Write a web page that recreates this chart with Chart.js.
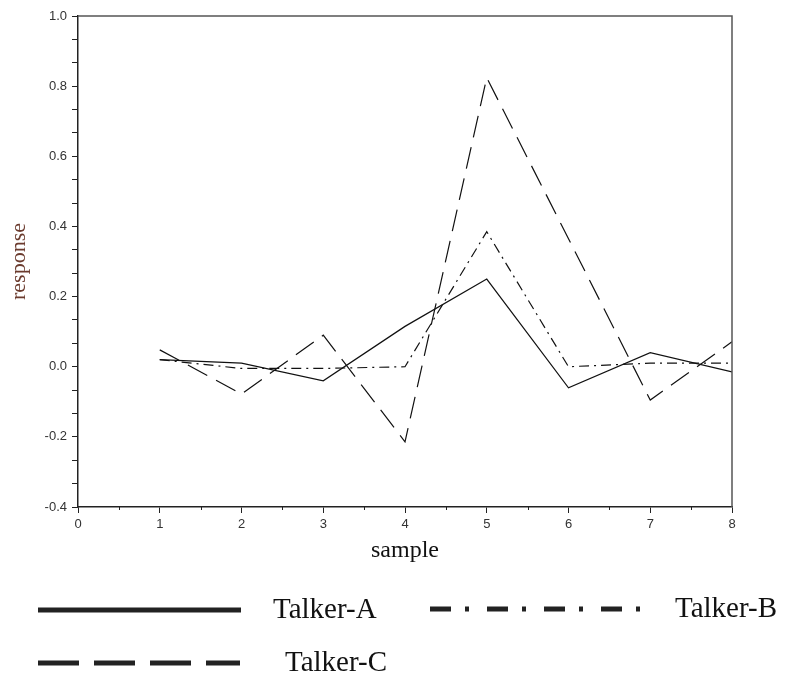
<!DOCTYPE html>
<html lang="en">
<head>
    <meta charset="UTF-8">
    <title>Talker response</title>
    <script src="https://cdn.jsdelivr.net/npm/chart.js"></script>
    <style>
        body {
            margin: 0;
            background: #fff;
        }
        #chart {
            display: block;
        }
    </style>
</head>
<body>
    <canvas id="chart" width="792" height="682"></canvas>
    <script>
        // values
        var samples = [1, 2, 3, 4, 5, 6, 7, 8];
        var talkerA = [0.02, 0.01, -0.04, 0.115, 0.25, -0.06, 0.04, -0.015];
        var talkerB = [0.02, -0.005, -0.005, 0.0, 0.385, 0.0, 0.01, 0.01];
        var talkerC = [0.048, -0.078, 0.09, -0.214, 0.824, 0.365, -0.095, 0.071];
        var seriesNames = ['Talker-A', 'Talker-B', 'Talker-C'];

        var yMajor = [-0.4, -0.2, 0.0, 0.2, 0.4, 0.6, 0.8, 1.0];
        var xMajor = [0, 1, 2, 3, 4, 5, 6, 7, 8];

        function points(ys) {
            return samples.map(function(x, i) { return {x: x, y: ys[i]}; });
        }

        // y ticks: majors plus two minors in between
        var yTicks = [];
        yMajor.forEach(function(v, i) {
            yTicks.push({value: v, major: true});
            if (i < yMajor.length - 1) {
                var step = (yMajor[i + 1] - v) / 3;
                yTicks.push({value: v + step});
                yTicks.push({value: v + 2 * step});
            }
        });

        // short minor ticks on x at the half samples + frame on top/right
        var framePlugin = {
            id: 'frame',
            afterDraw: function(chart) {
                var ctx = chart.ctx;
                var a = chart.chartArea;
                var xs = chart.scales.x;
                ctx.save();
                ctx.strokeStyle = '#222';
                ctx.lineWidth = 1;
                ctx.beginPath();
                for (var i = 0; i < xMajor.length - 1; i++) {
                    var px = Math.round(xs.getPixelForValue(xMajor[i] + 0.5)) + 0.5;
                    ctx.moveTo(px, a.bottom);
                    ctx.lineTo(px, a.bottom + 3);
                }
                ctx.stroke();
                ctx.strokeStyle = '#555';
                ctx.lineWidth = 1.5;
                ctx.beginPath();
                ctx.moveTo(a.left, a.top);
                ctx.lineTo(a.right, a.top);
                ctx.lineTo(a.right, a.bottom);
                ctx.stroke();
                ctx.restore();
            }
        };

        // legend under the axis, two rows
        var legendPlugin = {
            id: 'bottomLegend',
            afterDraw: function(chart, args, opts) {
                var ctx = chart.ctx;
                ctx.save();
                ctx.font = opts.font;
                ctx.fillStyle = '#111';
                ctx.textBaseline = 'middle';
                opts.items.forEach(function(it, i) {
                    var ds = chart.data.datasets[i];
                    ctx.strokeStyle = '#222';
                    ctx.lineWidth = 5;
                    ctx.setLineDash(it.dash);
                    ctx.beginPath();
                    ctx.moveTo(it.x0, it.y);
                    ctx.lineTo(it.x1, it.y);
                    ctx.stroke();
                    ctx.setLineDash([]);
                    ctx.fillText(ds.label, it.tx, it.y);
                });
                ctx.restore();
            }
        };

        var ctx = document.getElementById('chart').getContext('2d');
        var chart = new Chart(ctx, {
            type: 'line',
            data: {
                datasets: [{
                    label: seriesNames[0],
                    data: points(talkerA),
                    borderColor: '#111',
                    borderWidth: 1.2,
                    pointRadius: 0,
                    tension: 0
                }, {
                    label: seriesNames[1],
                    data: points(talkerB),
                    borderColor: '#111',
                    borderWidth: 1.2,
                    borderDash: [10, 5, 2, 5],
                    pointRadius: 0,
                    tension: 0
                }, {
                    label: seriesNames[2],
                    data: points(talkerC),
                    borderColor: '#111',
                    borderWidth: 1.2,
                    borderDash: [22, 10],
                    pointRadius: 0,
                    tension: 0
                }]
            },
            options: {
                responsive: false,
                animation: false,
                events: [],
                layout: {
                    padding: {left: 0, top: 16, right: 60, bottom: 113}
                },
                plugins: {
                    legend: {display: false},
                    tooltip: {enabled: false},
                    bottomLegend: {
                        font: '29px "Liberation Serif"',
                        items: [
                            {x0: 38, x1: 241, y: 610, tx: 273, dash: []},
                            {x0: 430, x1: 641, y: 609, tx: 675, dash: [21, 14, 4, 18]},
                            {x0: 38, x1: 240, y: 663, tx: 285, dash: [41, 15]}
                        ]
                    }
                },
                scales: {
                    x: {
                        type: 'linear',
                        min: 0,
                        max: 8,
                        afterFit: function(s) { s.height = 62; },
                        ticks: {
                            stepSize: 1,
                            padding: 4,
                            color: '#333',
                            font: {family: '"Liberation Sans"', size: 13},
                            callback: function(v) { return String(v); }
                        },
                        grid: {
                            drawOnChartArea: false,
                            tickLength: 6,
                            tickColor: '#222',
                            tickWidth: 1
                        },
                        border: {color: '#222', width: 1.5},
                        title: {
                            display: true,
                            text: 'sample',
                            color: '#111',
                            padding: {top: 4, bottom: 4},
                            font: {family: '"Liberation Serif"', size: 24}
                        }
                    },
                    y: {
                        min: -0.4,
                        max: 1.0,
                        afterFit: function(s) { s.width = 78; },
                        afterBuildTicks: function(s) {
                            s.ticks = yTicks.map(function(t) { return {value: t.value, major: !!t.major}; });
                        },
                        ticks: {
                            padding: 5,
                            color: '#333',
                            font: {family: '"Liberation Sans"', size: 13},
                            callback: function(v, i, ticks) {
                                if (!ticks[i].major) return '';
                                return Math.abs(v) < 1e-9 ? '0.0' : v.toFixed(1);
                            }
                        },
                        grid: {
                            drawOnChartArea: false,
                            tickLength: 6,
                            tickColor: '#222',
                            tickWidth: 1
                        },
                        border: {color: '#222', width: 1.5},
                        title: {
                            display: true,
                            text: 'response',
                            color: '#6b3b2e',
                            padding: {top: 6, bottom: 4},
                            font: {family: '"Liberation Serif"', size: 22}
                        }
                    }
                }
            },
            plugins: [framePlugin, legendPlugin]
        });
    </script>
</body>
</html>
